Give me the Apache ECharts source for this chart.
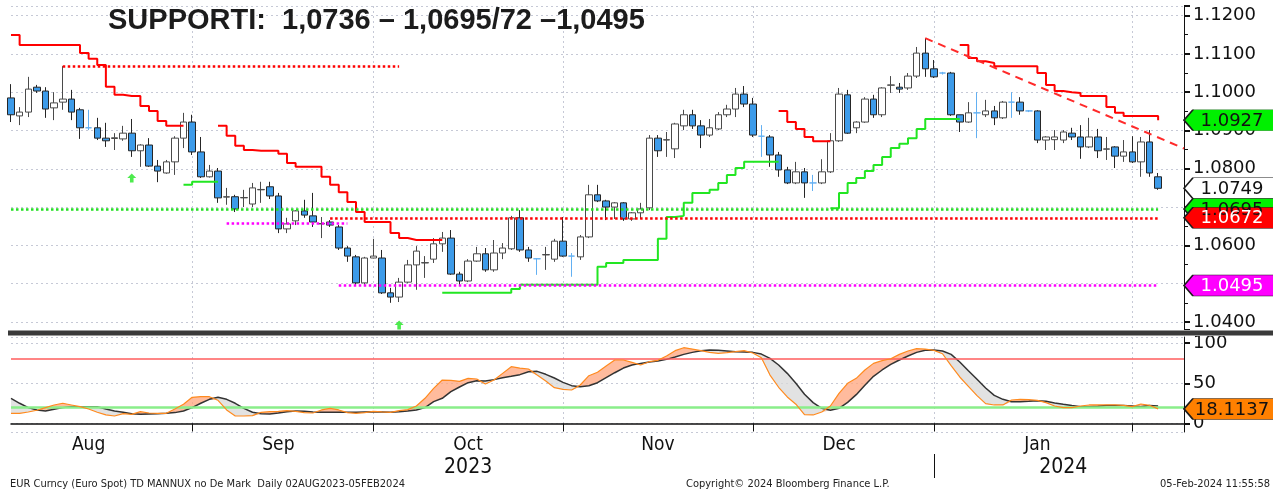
<!DOCTYPE html>
<html>
<head>
<meta charset="utf-8">
<title>EUR Curncy TD</title>
<script src="https://cdn.jsdelivr.net/npm/echarts@6/dist/echarts.min.js"></script>
<style>
  html, body { margin: 0; padding: 0; background: #fff; }
  #chart { width: 1273px; height: 492px; }
</style>
</head>
<body>
<div id="chart"></div>
<script>
// daily categories: weekdays 02 Aug 2023 .. 05 Feb 2024, plus 3 empty days on the right
var cats = [];
for (var d = new Date(Date.UTC(2023, 7, 2)); d <= Date.UTC(2024, 1, 8); d.setUTCDate(d.getUTCDate() + 1)) {
  var wd = d.getUTCDay();
  if (wd !== 0 && wd !== 6) cats.push(d.toISOString().slice(0, 10));
}

var open = [
  1.0985,1.0938,1.0948,1.1013,1.1003,1.0959,1.0974,1.0982,1.0954,1.0907,
  1.0907,1.0880,1.0879,1.0878,1.0893,1.0847,1.0862,1.0807,1.0789,1.0818,
  1.0880,1.0922,1.0844,1.0779,1.0794,1.0726,1.0727,1.0724,1.0708,1.0745,
  1.0753,1.0729,1.0643,1.0664,1.0690,1.0677,1.0656,1.0661,1.0648,1.0593,
  1.0570,1.0502,1.0567,1.0567,1.0476,1.0465,1.0504,1.0549,1.0554,1.0564,
  1.0604,1.0619,1.0525,1.0507,1.0559,1.0578,1.0536,1.0580,1.0591,1.0672,
  1.0588,1.0565,1.0575,1.0564,1.0611,1.0572,1.0570,1.0622,1.0732,1.0716,
  1.0700,1.0711,1.0669,1.0685,1.0698,1.0880,1.0875,1.0852,1.0912,1.0941,
  1.0912,1.0888,1.0904,1.0941,1.0956,1.0995,1.0969,1.0885,1.0883,1.0836,
  1.0797,1.0763,1.0792,1.0763,1.0763,1.0792,1.0873,1.0993,1.0907,1.0922,
  1.0982,1.0941,1.1018,1.1013,1.1011,1.1042,1.1102,1.1061,1.1050,1.1050,
  1.0941,1.0922,1.0946,1.0941,1.0951,1.0933,1.0974,1.0974,1.0951,1.0951,
  1.0875,1.0876,1.0875,1.0893,1.0883,1.0857,1.0883,1.0851,1.0857,1.0833,
  1.0844,1.0818,1.0870,1.0779
];
var close = [
  1.0941,1.0948,1.1008,1.1003,1.0956,1.0972,1.0982,1.0948,1.0907,1.0907,
  1.0880,1.0873,1.0881,1.0893,1.0847,1.0862,1.0807,1.0794,1.0818,1.0880,
  1.0922,1.0844,1.0779,1.0794,1.0724,1.0727,1.0695,1.0725,1.0750,1.0746,
  1.0729,1.0643,1.0656,1.0690,1.0679,1.0661,1.0657,1.0653,1.0593,1.0572,
  1.0502,1.0567,1.0572,1.0476,1.0465,1.0504,1.0549,1.0585,1.0555,1.0604,
  1.0619,1.0525,1.0507,1.0559,1.0578,1.0536,1.0580,1.0593,1.0672,1.0588,
  1.0567,1.0565,1.0576,1.0611,1.0572,1.0572,1.0622,1.0732,1.0716,1.0700,
  1.0711,1.0669,1.0685,1.0695,1.0880,1.0847,1.0876,1.0917,1.0941,1.0912,
  1.0888,1.0907,1.0941,1.0956,1.0995,1.0969,1.0888,1.0885,1.0836,1.0797,
  1.0763,1.0792,1.0763,1.0763,1.0792,1.0873,1.0995,1.0893,1.0922,1.0982,
  1.0941,1.1011,1.1019,1.1008,1.1042,1.1102,1.1061,1.1040,1.1050,1.0941,
  1.0922,1.0946,1.0946,1.0951,1.0933,1.0974,1.0974,1.0951,1.0951,1.0875,
  1.0883,1.0883,1.0896,1.0883,1.0857,1.0883,1.0847,1.0852,1.0833,1.0844,
  1.0818,1.0870,1.0789,1.0749
];
var low = [
  1.0922,1.0914,1.0935,1.0998,1.0933,1.0927,1.0954,1.0927,1.0878,1.0901,
  1.0875,1.0857,1.0849,1.0873,1.0831,1.0805,1.0805,1.0765,1.0787,1.0784,
  1.0854,1.0836,1.0776,1.0777,1.0711,1.0706,1.0687,1.0700,1.0700,1.0711,
  1.0721,1.0632,1.0632,1.0653,1.0672,1.0648,1.0619,1.0648,1.0588,1.0557,
  1.0497,1.0497,1.0566,1.0473,1.0450,1.0452,1.0501,1.0484,1.0515,1.0554,
  1.0583,1.0523,1.0497,1.0504,1.0557,1.0531,1.0531,1.0564,1.0588,1.0583,
  1.0557,1.0523,1.0536,1.0557,1.0570,1.0518,1.0562,1.0619,1.0713,1.0666,
  1.0669,1.0664,1.0664,1.0669,1.0692,1.0831,1.0831,1.0828,1.0901,1.0904,
  1.0854,1.0883,1.0901,1.0935,1.0935,1.0961,1.0883,1.0831,1.0805,1.0779,
  1.0760,1.0760,1.0724,1.0742,1.0760,1.0789,1.0870,1.0891,1.0893,1.0920,
  1.0933,1.0935,1.0998,1.0998,1.1006,1.1037,1.1040,1.1037,1.1046,1.0938,
  1.0896,1.0920,1.0880,1.0935,1.0914,1.0930,1.0933,1.0941,1.0948,1.0867,
  1.0849,1.0849,1.0867,1.0875,1.0826,1.0854,1.0828,1.0823,1.0802,1.0818,
  1.0815,1.0779,1.0779,1.0745
];
var high = [
  1.1021,1.0961,1.1040,1.1019,1.1013,1.1000,1.1068,1.1006,1.0959,1.0954,
  1.0933,1.0920,1.0893,1.0912,1.0930,1.0864,1.0880,1.0823,1.0823,1.0885,
  1.0946,1.0941,1.0883,1.0810,1.0802,1.0750,1.0732,1.0745,1.0763,1.0766,
  1.0766,1.0737,1.0672,1.0692,1.0719,1.0737,1.0674,1.0666,1.0653,1.0598,
  1.0575,1.0570,1.0617,1.0588,1.0489,1.0515,1.0562,1.0598,1.0572,1.0619,
  1.0635,1.0640,1.0531,1.0564,1.0596,1.0593,1.0614,1.0606,1.0677,1.0692,
  1.0596,1.0567,1.0596,1.0617,1.0674,1.0580,1.0627,1.0758,1.0758,1.0719,
  1.0713,1.0713,1.0687,1.0711,1.0888,1.0888,1.0896,1.0920,1.0954,1.0954,
  1.0927,1.0930,1.0948,1.0967,1.1011,1.1016,1.0985,1.0914,1.0888,1.0844,
  1.0805,1.0818,1.0802,1.0784,1.0825,1.0893,1.1011,1.1006,1.0924,1.0987,
  1.0993,1.1013,1.1042,1.1024,1.1050,1.1118,1.1141,1.1084,1.1053,1.1053,
  1.0941,1.0974,1.1000,1.0980,1.0964,1.0977,1.1000,1.0987,1.0953,1.0953,
  1.0885,1.0901,1.0901,1.0907,1.0914,1.0933,1.0904,1.0883,1.0859,1.0875,
  1.0885,1.0883,1.0901,1.0789
];

// TD trend stops (step lines), null = no line that day
var n = null;
var tdRed = [
  1.1149,1.1123,1.1123,1.1123,1.1123,1.1123,1.1123,1.1123,1.1102,1.1087,
  1.1071,1.1014,1.0993,1.0990,1.0990,1.0964,1.0951,1.0925,1.0912,1.0912,
  n,n,n,n,1.0912,1.0886,1.0860,1.0849,1.0847,1.0847,
  1.0847,1.0839,1.0815,1.0805,1.0805,1.0805,1.0779,1.0758,1.0739,1.0713,
  1.0687,1.0661,1.0661,1.0661,1.0632,1.0619,1.0614,1.0614,1.0614,1.0614,
  n,n,n,n,n,n,n,n,n,n,
  n,n,n,n,n,n,n,n,n,n,
  n,n,n,n,n,n,n,n,n,n,
  n,n,n,n,n,n,n,n,n,1.0951,
  1.0922,1.0904,1.0883,1.0872,1.0872,n,n,n,n,n,
  n,n,n,n,n,n,n,n,n,n,
  1.1123,1.1089,1.1081,1.1076,1.1068,1.1068,1.1068,1.1068,1.1068,1.1050,
  1.1019,1.1003,1.1000,1.0998,1.0990,1.0990,1.0990,1.0961,1.0946,1.0938,
  1.0938,1.0938,1.0938,1.0927
];
var tdGreen = [
  n,n,n,n,n,n,n,n,n,n,
  n,n,n,n,n,n,n,n,n,n,
  1.0758,1.0766,1.0766,1.0766,n,n,n,n,n,n,
  n,n,n,n,n,n,n,n,n,n,
  n,n,n,n,n,n,n,n,n,n,
  1.0476,1.0476,1.0476,1.0476,1.0476,1.0476,1.0476,1.0476,1.0486,1.0497,
  1.0497,1.0497,1.0497,1.0497,1.0497,1.0497,1.0497,1.0497,1.0544,1.0554,
  1.0554,1.0562,1.0562,1.0562,1.0562,1.0617,1.0674,1.0677,1.0711,1.0737,
  1.0737,1.0745,1.0763,1.0784,1.0802,1.0818,1.0818,1.0818,1.0818,n,
  n,n,n,n,n,1.0697,1.0737,1.0763,1.0776,1.0794,
  1.0810,1.0831,1.0854,1.0865,1.0880,1.0904,1.0930,1.0930,1.0930,1.0930,
  n,n,n,n,n,n,n,n,n,n,
  n,n,n,n,n,n,n,n,n,n,
  n,n,n,n
];

// dotted support / resistance levels: value, first day, last day
var levelValue = [1.1067, 1.0695, 1.0672, 1.0659, 1.0495];
var levelFrom  = [6, 0, 37, 25, 38];
var levelTo    = [45, 133, 133, 39, 133];

// dashed trend line
var trendFrom = [106, 1.1141];
var trendTo   = [136, 1.0853];

// green TD arrows
var arrowIdx = [14, 45];
var arrowVal = [1.0776, 1.0392];

// right side value tags
var tagValues = [1.0927, 1.0749, 1.0695, 1.0672, 1.0495];
var stochTag = 18.1137;

// stochastic %K (orange) and %D (black)
var stochK = [
  12.6,12.6,14.3,16.4,19.7,23.0,25.1,23.0,20.9,18.0,
  13.9,10.6,9.3,12.2,11.4,14.7,13.0,12.6,12.6,18.0,
  23.8,32.5,33.3,33.3,28.8,16.8,9.3,9.3,9.7,13.9,
  14.7,15.1,16.0,15.1,13.5,13.0,16.8,18.8,16.8,13.5,
  12.6,13.5,15.1,14.3,13.9,16.0,17.2,21.7,31.3,43.7,
  54.0,53.6,52.4,56.1,55.3,49.1,54.0,62.3,70.6,68.9,
  67.7,60.2,52.8,44.5,42.4,41.6,47.8,59.4,63.6,71.4,
  78.9,78.9,76.0,72.7,76.8,78.5,83.9,90.5,94.2,92.5,
  90.5,88.4,87.2,88.0,89.2,90.5,87.6,81.8,60.2,45.0,
  33.0,24.0,11.0,10.6,14.3,21.7,37.5,49.9,56.1,66.5,
  74.7,78.1,80.5,85.9,90.1,93.0,92.5,90.9,86.7,71.8,
  57.8,46.2,34.6,24.6,23.0,23.0,29.2,30.0,29.6,28.8,
  25.9,21.7,19.7,19.7,21.7,23.0,23.0,23.0,23.0,22.6,
  20.9,24.2,22.6,18.1
];
var stochD = [
  31.3,25.1,19.7,16.8,15.5,17.6,19.7,20.9,20.9,20.9,
  20.9,18.0,15.5,13.9,12.2,11.4,11.8,12.2,12.6,13.5,
  15.5,19.7,25.1,30.0,32.5,30.0,25.1,18.8,13.9,12.2,
  11.8,13.0,14.7,15.5,15.1,14.3,13.9,13.9,13.9,13.9,
  13.9,14.3,14.7,14.3,13.9,14.5,15.5,16.8,19.7,27.1,
  31.3,39.5,45.3,50.7,53.2,52.8,54.5,56.9,58.6,60.7,
  64.4,64.8,61.1,56.5,51.1,47.0,45.8,47.0,50.7,56.9,
  63.1,68.9,72.7,74.7,76.4,77.6,79.7,82.6,85.9,88.4,
  90.5,91.3,90.9,90.1,89.2,88.8,88.4,86.3,81.0,72.7,
  62.3,49.9,36.4,25.9,18.8,16.4,18.8,26.3,35.8,47.4,
  58.6,66.5,73.5,78.9,83.9,88.4,90.9,91.3,90.1,85.9,
  76.4,65.6,54.9,44.1,35.0,30.0,27.1,27.1,27.5,28.4,
  27.5,25.5,23.8,22.2,20.9,20.9,21.3,22.2,22.2,22.2,
  21.7,20.9,22.2,21.7
];

// axis labels
var monthLabels = ['Aug', 'Sep', 'Oct', 'Nov', 'Dec', 'Jan'];
var monthLabelIdx = [9, 31, 53, 75, 96, 119];
var monthEndIdx = [21, 42, 64, 86, 107, 130];
var yearLabels = ['2023', '2024'];
var yearLabelIdx = [53, 122];
var yearSplitIdx = 107;

// ---- build ----
var candles = open.map(function (o, i) { return [o, close[i], low[i], high[i]]; });
var stochLo = stochK.map(function (k, i) { return Math.min(k, stochD[i]); });
var stochUp = stochK.map(function (k, i) { return Math.max(k - stochD[i], 0); });
var stochDn = stochK.map(function (k, i) { return Math.max(stochD[i] - k, 0); });
var lastCat = cats[cats.length - 1];

var axisFont = 'DejaVu Sans';
var condFont = "'DejaVu Sans Condensed', 'Liberation Sans Narrow', sans-serif";
var gridDots = { color: '#c6c9d6', type: [2, 3], width: 1 };
var isMonthEnd = function (i) { return monthEndIdx.indexOf(i) >= 0; };

var TAG = 'path://M0,10.5L9,0L92,0L92,21L9,21Z';
function tag(v, text, bg, fg) {
  return {
    coord: [lastCat, v], value: text,
    itemStyle: { color: bg, borderColor: '#1b1b1b', borderWidth: 1 },
    label: { color: fg }
  };
}
var levelColors = ['#ff0000', '#22e022', '#ff0000', '#ff00ff', '#ff00ff'];
var levelLines = levelValue.map(function (v, k) {
  return [
    { coord: [cats[levelFrom[k]], v], lineStyle: { color: levelColors[k], type: [2.5, 2.5], width: 2.5 } },
    { coord: [cats[levelTo[k]], v] }
  ];
});
levelLines.push([
  { coord: [cats[trendFrom[0]], trendFrom[1]], lineStyle: { color: '#ff2a2a', type: [8, 6], width: 2 } },
  { coord: [cats[trendTo[0]], trendTo[1]] }
]);

var chart = echarts.init(document.getElementById('chart'));

chart.setOption({
  animation: false,
  backgroundColor: '#ffffff',
  title: {
    text: 'SUPPORTI:  1,0736 – 1,0695/72 –1,0495',
    left: 103, top: 1,
    textStyle: { fontFamily: 'Liberation Sans', fontWeight: 'bold', fontSize: 29, color: '#1c1c1c' }
  },
  grid: [
    { left: 11, right: 89, top: 6, height: 324 },
    { left: 11, right: 89, top: 337, height: 95 }
  ],
  xAxis: [
    {
      gridIndex: 0, type: 'category', data: cats, boundaryGap: false,
      axisLine: { show: false }, axisTick: { show: false }, axisLabel: { show: false },
      splitLine: { show: true, interval: isMonthEnd, lineStyle: gridDots }
    },
    {
      gridIndex: 1, type: 'category', data: cats, boundaryGap: false,
      axisLine: { show: true, lineStyle: { color: '#111', width: 1.5 } },
      axisTick: { show: true, interval: isMonthEnd, length: 8, lineStyle: { color: '#111' } },
      axisLabel: {
        interval: function (i) { return monthLabelIdx.indexOf(i) >= 0; },
        formatter: function (v, i) { return monthLabels[monthLabelIdx.indexOf(i)]; },
        color: '#111', fontFamily: condFont, fontSize: 19, margin: 4
      },
      splitLine: { show: true, interval: isMonthEnd, lineStyle: gridDots }
    },
    {
      gridIndex: 1, type: 'category', data: cats, boundaryGap: false, position: 'bottom', offset: 22,
      axisLine: { show: false },
      axisTick: { show: true, interval: function (i) { return i === yearSplitIdx; }, length: 24, lineStyle: { color: '#111' } },
      axisLabel: {
        interval: function (i) { return yearLabelIdx.indexOf(i) >= 0; },
        formatter: function (v, i) { return yearLabels[yearLabelIdx.indexOf(i)]; },
        color: '#111', fontFamily: condFont, fontSize: 21, margin: 3
      },
      splitLine: { show: false }
    }
  ],
  yAxis: [
    {
      gridIndex: 0, type: 'value', position: 'right', min: 1.0379, max: 1.1225, splitNumber: 8,
      axisLine: { show: true, lineStyle: { color: '#111' } },
      axisTick: { show: true, length: 6, lineStyle: { color: '#111', width: 2 } },
      minorTick: { show: true, splitNumber: 2, length: 4, lineStyle: { color: '#111' } },
      axisLabel: {
        formatter: function (v) { return v.toFixed(4); }, showMinLabel: false, showMaxLabel: false,
        color: '#111', fontFamily: axisFont, fontSize: 18, margin: 9
      },
      splitLine: { show: true, lineStyle: gridDots }
    },
    {
      gridIndex: 1, type: 'value', position: 'right', min: -10.6, max: 107.5, splitNumber: 2,
      axisLine: { show: true, lineStyle: { color: '#111' } },
      axisTick: { show: true, length: 6, lineStyle: { color: '#111', width: 2 } },
      axisLabel: {
        formatter: function (v) { return String(Math.round(v)); }, showMinLabel: false, showMaxLabel: false,
        color: '#111', fontFamily: axisFont, fontSize: 18, margin: 9
      },
      splitLine: { show: true, lineStyle: gridDots }
    }
  ],
  series: [
    {
      name: 'EURUSD', type: 'candlestick', xAxisIndex: 0, yAxisIndex: 0, data: candles, barWidth: 7,
      itemStyle: {
        color: '#ffffff', color0: '#3d9be9', borderColor: '#4a4a4a', borderColor0: '#262626',
        borderColorDoji: '#63b0f2', borderWidth: 1
      },
      markLine: { silent: true, symbol: ['none', 'none'], label: { show: false }, data: levelLines },
      markPoint: {
        silent: true, symbol: TAG, symbolSize: [92, 21], symbolOffset: [46, 0], symbolKeepAspect: false,
        label: { show: true, position: 'inside', formatter: '{c}', fontFamily: axisFont, fontSize: 18, offset: [2, 1] },
        data: [
          tag(tagValues[0], '1.0927', '#00f000', '#111'),
          tag(tagValues[1], '1.0749', '#ffffff', '#111'),
          tag(tagValues[2], '1.0695', '#00f000', '#111'),
          tag(tagValues[3], '1.0672', '#ff0000', '#ffffff'),
          tag(tagValues[4], '1.0495', '#ff00ff', '#ffffff')
        ]
      }
    },
    {
      name: 'TD red', type: 'line', xAxisIndex: 0, yAxisIndex: 0, data: tdRed, step: 'end',
      showSymbol: false, symbol: 'none', connectNulls: false,
      lineStyle: { color: '#ff0000', width: 2 }, z: 3
    },
    {
      name: 'TD green', type: 'line', xAxisIndex: 0, yAxisIndex: 0, data: tdGreen, step: 'end',
      showSymbol: false, symbol: 'none', connectNulls: false,
      lineStyle: { color: '#22e622', width: 2 }, z: 3
    },
    {
      name: 'arrows', type: 'scatter', xAxisIndex: 0, yAxisIndex: 0,
      data: arrowIdx.map(function (i, k) { return [cats[i], arrowVal[k]]; }),
      symbol: 'path://M5,0L10,5L7,5L7,10L3,10L3,5L0,5Z', symbolSize: 9,
      itemStyle: { color: '#22e622' }
    },
    // stochastic fills between %K and %D
    { type: 'line', xAxisIndex: 1, yAxisIndex: 1, stack: 'up', data: stochLo, symbol: 'none', lineStyle: { width: 0 }, silent: true },
    { type: 'line', xAxisIndex: 1, yAxisIndex: 1, stack: 'up', data: stochUp, symbol: 'none', lineStyle: { width: 0 }, silent: true,
      areaStyle: { color: '#ffa47c', opacity: 0.75 } },
    { type: 'line', xAxisIndex: 1, yAxisIndex: 1, stack: 'dn', data: stochLo, symbol: 'none', lineStyle: { width: 0 }, silent: true },
    { type: 'line', xAxisIndex: 1, yAxisIndex: 1, stack: 'dn', data: stochDn, symbol: 'none', lineStyle: { width: 0 }, silent: true,
      areaStyle: { color: '#d8d8d8', opacity: 0.75 } },
    {
      name: '%D', type: 'line', xAxisIndex: 1, yAxisIndex: 1, data: stochD, symbol: 'none',
      lineStyle: { color: '#333333', width: 1.5 }, z: 4,
      markLine: {
        silent: true, symbol: ['none', 'none'], label: { show: false },
        data: [
          { yAxis: 80, lineStyle: { color: '#ff5c5c', width: 1.5, type: 'solid' } },
          { yAxis: 20, lineStyle: { color: '#8aee8a', width: 2.5, type: 'solid' } }
        ]
      }
    },
    {
      name: '%K', type: 'line', xAxisIndex: 1, yAxisIndex: 1, data: stochK, symbol: 'none',
      lineStyle: { color: '#ff8a1e', width: 1.2 }, z: 5,
      markPoint: {
        silent: true, symbol: TAG, symbolSize: [92, 21], symbolOffset: [46, 0], symbolKeepAspect: false,
        label: { show: true, position: 'inside', formatter: '{c}', fontFamily: axisFont, fontSize: 18, offset: [2, 1] },
        data: [ tag(stochTag, '18.1137', '#ff8000', '#111') ]
      }
    }
  ],
  graphic: [
    { type: 'rect', left: 8, top: 330, z: 50, shape: { width: 1265, height: 6 }, style: { fill: '#9a9a9a' } },
    { type: 'rect', left: 8, top: 331, z: 51, shape: { width: 1265, height: 4 }, style: { fill: '#3a3a3a' } },
    { type: 'text', left: 10, top: 479, style: { text: 'EUR Curncy (Euro Spot) TD MANNUX no De Mark  Daily 02AUG2023-05FEB2024', font: "11px 'DejaVu Sans Condensed', 'Liberation Sans Narrow', sans-serif", fill: '#222' } },
    { type: 'text', left: 686, top: 479, style: { text: 'Copyright\u00a9 2024 Bloomberg Finance L.P.', font: "11px 'DejaVu Sans Condensed', 'Liberation Sans Narrow', sans-serif", fill: '#222' } },
    { type: 'text', right: 3, top: 479, style: { text: '05-Feb-2024 11:55:58', font: "11px 'DejaVu Sans Condensed', 'Liberation Sans Narrow', sans-serif", fill: '#222' } }
  ]
});
</script>
</body>
</html>
